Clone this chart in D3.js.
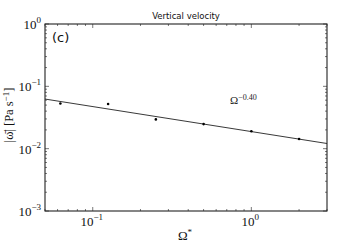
<!DOCTYPE html>
<html><head><meta charset="utf-8">
<script src="https://cdn.jsdelivr.net/npm/d3@7"></script>
<style>body{margin:0;background:#fff}svg{display:block}</style>
</head><body>
<script>
const omega = [0.0625, 0.125, 0.25, 0.5, 1, 2];
const omegaVel = [0.053, 0.052, 0.0295, 0.0248, 0.019, 0.0143];
const fitX = [0.05, 3];
const fitY = [0.0625, 0.0121];
const xTickExps = [-1, 0];
const yTickExps = [-3, -2, -1, 0];

const W = 363, H = 242;
const m = {l: 45, r: 36, t: 24, b: 31};
const svg = d3.select("body").append("svg").attr("width", W).attr("height", H);
const x = d3.scaleLog().domain([0.05, 3]).range([m.l, W - m.r]);
const y = d3.scaleLog().domain([1e-3, 1]).range([H - m.b, m.t]);
const serif = "'Liberation Serif', 'DejaVu Serif', serif";

// minor + major ticks (inside, all four sides)
const g = svg.append("g").attr("stroke", "#555").attr("stroke-width", 0.8);
const xMinor = [], yMinor = [];
for (let e = -2; e <= 0; e++) for (let k = 2; k <= 9; k++) { const v = k * Math.pow(10, e); if (v >= 0.05 && v <= 3) xMinor.push(v); }
for (let e = -3; e <= -1; e++) for (let k = 2; k <= 9; k++) yMinor.push(k * Math.pow(10, e));
xMinor.forEach(v => {
  g.append("line").attr("x1", x(v)).attr("x2", x(v)).attr("y1", y.range()[0]).attr("y2", y.range()[0] - 2);
  g.append("line").attr("x1", x(v)).attr("x2", x(v)).attr("y1", y.range()[1]).attr("y2", y.range()[1] + 2);
});
xTickExps.forEach(e => { const v = Math.pow(10, e);
  g.append("line").attr("x1", x(v)).attr("x2", x(v)).attr("y1", y.range()[0]).attr("y2", y.range()[0] - 4);
  g.append("line").attr("x1", x(v)).attr("x2", x(v)).attr("y1", y.range()[1]).attr("y2", y.range()[1] + 4);
});
yMinor.forEach(v => {
  g.append("line").attr("y1", y(v)).attr("y2", y(v)).attr("x1", m.l).attr("x2", m.l + 2);
  g.append("line").attr("y1", y(v)).attr("y2", y(v)).attr("x1", W - m.r).attr("x2", W - m.r - 2);
});
yTickExps.forEach(e => { const v = Math.pow(10, e);
  g.append("line").attr("y1", y(v)).attr("y2", y(v)).attr("x1", m.l).attr("x2", m.l + 4);
  g.append("line").attr("y1", y(v)).attr("y2", y(v)).attr("x1", W - m.r).attr("x2", W - m.r - 4);
});

// frame
svg.append("rect").attr("x", m.l).attr("y", m.t).attr("width", W - m.l - m.r).attr("height", H - m.t - m.b)
  .attr("fill", "none").attr("stroke", "#222").attr("stroke-width", 1.1);

// tick labels
function powLabel(sel, e) {
  sel.append("tspan").text("10");
  sel.append("tspan").attr("dy", -6).attr("font-size", 9).text(e === 0 ? "0" : "\u2212" + Math.abs(e));
}
xTickExps.forEach(e => {
  const t = svg.append("text").attr("x", x(Math.pow(10, e)) - 1).attr("y", 226).attr("text-anchor", "middle")
    .attr("font-family", serif).attr("font-size", 13).attr("fill", "#111");
  powLabel(t, e);
});
yTickExps.forEach(e => {
  const t = svg.append("text").attr("x", 41).attr("y", y(Math.pow(10, e)) + 5).attr("text-anchor", "end")
    .attr("font-family", serif).attr("font-size", 13).attr("fill", "#111");
  powLabel(t, e);
});

// fit line
const line = d3.line().x((d, i) => x(fitX[i])).y(d => y(d));
svg.append("path").datum(fitY).attr("d", line).attr("fill", "none").attr("stroke", "#222").attr("stroke-width", 0.9);

// points
svg.selectAll("circle.pt").data(omega).enter().append("circle").attr("class", "pt")
  .attr("cx", d => x(d)).attr("cy", (d, i) => y(omegaVel[i])).attr("r", 1.3).attr("fill", "#000");

// annotation
const ann = svg.append("text").attr("x", 230).attr("y", 104).attr("font-family", serif).attr("font-size", 11).attr("fill", "#222");
ann.append("tspan").text("\u03A9");
ann.append("tspan").attr("dy", -4).attr("font-size", 8).text("\u22120.40");

// title
svg.append("text").attr("x", 186).attr("y", 19).attr("text-anchor", "middle")
  .attr("font-family", "'DejaVu Sans', sans-serif").attr("font-size", 8.5).attr("fill", "#111").text("Vertical velocity");

// panel label
svg.append("text").attr("x", 52).attr("y", 42).attr("font-family", "'DejaVu Sans', sans-serif").attr("font-size", 13).attr("fill", "#111").text("(c)");

// x label
const xl = svg.append("text").attr("x", 185).attr("y", 240).attr("text-anchor", "middle").attr("font-family", serif).attr("font-size", 13).attr("fill", "#111");
xl.append("tspan").text("\u03A9");
xl.append("tspan").attr("dy", -5).attr("font-size", 9).text("*");

// y label
const yl = svg.append("text").attr("transform", "translate(13,115) rotate(-90)")
  .attr("text-anchor", "middle").attr("font-family", serif).attr("font-size", 12.5).attr("fill", "#111");
yl.append("tspan").text("|\u03C9\u0304| [Pa s");
yl.append("tspan").attr("dy", -4).attr("font-size", 9).text("\u22121");
yl.append("tspan").attr("dy", 4).text("]");
</script>
</body></html>
